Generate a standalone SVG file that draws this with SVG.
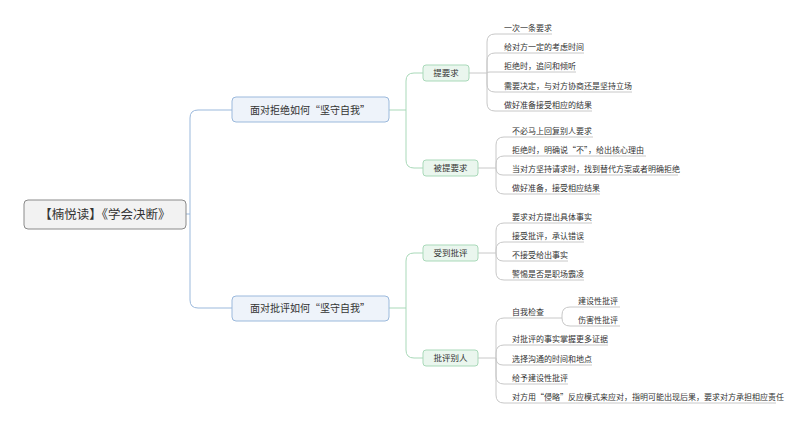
<svg xmlns="http://www.w3.org/2000/svg" width="800" height="429" viewBox="0 0 800 429">
<style>
text{font-family:"Noto Sans CJK SC","Noto Sans",sans-serif;fill:#333}
.lf{font-size:8px}
.b{fill:none;stroke:#9bb9dc;stroke-width:1}
.g{fill:none;stroke:#a9d9b9;stroke-width:1}
.l{fill:none;stroke:#c8c8c8;stroke-width:1}
</style>
<rect width="800" height="429" fill="#fff"/>
<g id="connectors">
<path class="b" d="M186 214 H190 M232 110 H198 Q190 110 190 118 V300 Q190 308 198 308 H232"/>
<path class="g" d="M389 110 H406 M423 73 H414 Q406 73 406 81 V160 Q406 168 414 168 H423"/>
<path class="g" d="M389 308 H406 M423 253 H414 Q406 253 406 261 V350 Q406 358 414 358 H423"/>
<g class="l">
<path d="M469 73 H487"/>
<path d="M487 73 V42 Q487 34 495 34 H552"/>
<path d="M487 73 V61 Q487 53 495 53 H584"/>
<path d="M487 73 Q487 72 490 72 H576"/>
<path d="M487 73 V84 Q487 92 495 92 H632"/>
<path d="M487 73 V103 Q487 111 495 111 H592"/>
<path d="M478 168 H496"/>
<path d="M496 168 V145 Q496 137 504 137 H593"/>
<path d="M496 168 V164 Q496 156 504 156 H646"/>
<path d="M496 168 Q496 175 503 175 H678"/>
<path d="M496 168 V186 Q496 194 504 194 H600"/>
<path d="M478 253 H496"/>
<path d="M496 253 V231 Q496 223 504 223 H592"/>
<path d="M496 253 V250 Q496 242 504 242 H584"/>
<path d="M496 253 Q496 261 503 261 H568"/>
<path d="M496 253 V272 Q496 280 504 280 H584"/>
<path d="M478 358 H496"/>
<path d="M496 358 V326 Q496 318 504 318 H562"/>
<path d="M496 358 V353 Q496 345 504 345 H608"/>
<path d="M496 358 Q496 365 503 365 H592"/>
<path d="M496 358 V376 Q496 384 504 384 H568"/>
<path d="M496 358 V395 Q496 403 504 403 H776"/>
<path d="M562 318 V315 Q562 307 570 307 H620"/>
<path d="M562 318 Q562 326 570 326 H620"/>
</g>
</g>
<g id="root"><rect x="24" y="200" width="162" height="29" rx="4" fill="#f2f2f2" stroke="#8a8a8a"/><text x="105" y="219" font-size="12.5" text-anchor="middle">【楠悦读】《学会决断》</text></g>
<g id="n1"><rect x="232" y="97" width="157" height="25" rx="4" fill="#eef3fa" stroke="#9bb9dc"/><text x="310" y="114" font-size="10" text-anchor="middle">面对拒绝如何“坚守自我”</text></g>
<g id="n2"><rect x="232" y="296" width="157" height="25" rx="4" fill="#eef3fa" stroke="#9bb9dc"/><text x="310" y="312" font-size="10" text-anchor="middle">面对批评如何“坚守自我”</text></g>
<g id="n11"><rect x="423" y="65" width="46" height="16" rx="3" fill="#eaf6ee" stroke="#a9d9b9"/><text x="446" y="76" font-size="8.5" text-anchor="middle">提要求</text></g>
<g id="n12"><rect x="423" y="160" width="55" height="16" rx="3" fill="#eaf6ee" stroke="#a9d9b9"/><text x="450.5" y="171" font-size="8.5" text-anchor="middle">被提要求</text></g>
<g id="n21"><rect x="423" y="245" width="55" height="16" rx="3" fill="#eaf6ee" stroke="#a9d9b9"/><text x="450.5" y="256" font-size="8.5" text-anchor="middle">受到批评</text></g>
<g id="n22"><rect x="423" y="350" width="55" height="16" rx="3" fill="#eaf6ee" stroke="#a9d9b9"/><text x="450.5" y="361" font-size="8.5" text-anchor="middle">批评别人</text></g>
<g id="leaves" class="lf">
<text class="lf" x="504" y="31">一次一条要求</text>
<text class="lf" x="504" y="50">给对方一定的考虑时间</text>
<text class="lf" x="504" y="69">拒绝时，追问和倾听</text>
<text class="lf" x="504" y="89">需要决定，与对方协商还是坚持立场</text>
<text class="lf" x="504" y="108">做好准备接受相应的结果</text>
<text class="lf" x="512" y="134">不必马上回复别人要求</text>
<text class="lf" x="512" y="153">拒绝时，明确说“不”，给出核心理由</text>
<text class="lf" x="512" y="172">当对方坚持请求时，找到替代方案或者明确拒绝</text>
<text class="lf" x="512" y="191">做好准备，接受相应结果</text>
<text class="lf" x="512" y="220">要求对方提出具体事实</text>
<text class="lf" x="512" y="239">接受批评，承认错误</text>
<text class="lf" x="512" y="258">不接受给出事实</text>
<text class="lf" x="512" y="277">警惕是否是职场霸凌</text>
<text class="lf" x="512" y="315">自我检查</text>
<text class="lf" x="578" y="304">建设性批评</text>
<text class="lf" x="578" y="323">伤害性批评</text>
<text class="lf" x="512" y="342">对批评的事实掌握更多证据</text>
<text class="lf" x="512" y="362">选择沟通的时间和地点</text>
<text class="lf" x="512" y="381">给予建设性批评</text>
<text class="lf" x="512" y="400">对方用“侵略”反应模式来应对，指明可能出现后果，要求对方承担相应责任</text>
</g>
</svg>
